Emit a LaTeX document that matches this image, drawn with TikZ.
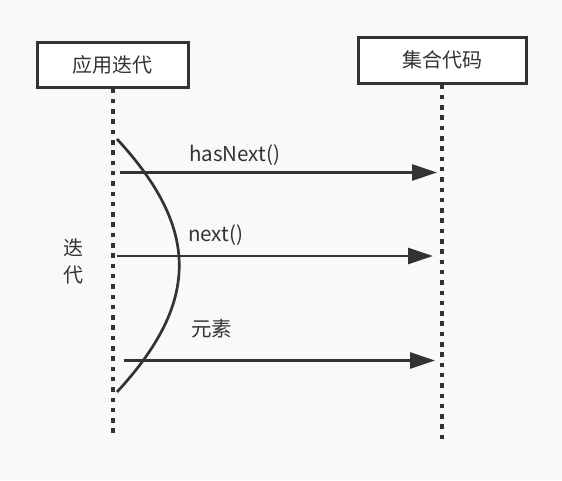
\documentclass[tikz,border=0pt]{standalone}
\usepackage{fontspec}
\setmainfont{Noto Sans CJK SC}
\usetikzlibrary{arrows.meta}
\definecolor{ink}{HTML}{333333}
\definecolor{bg}{HTML}{F9F9F9}
\begin{document}
\begin{tikzpicture}[x=1pt,y=-1pt,
  actor/.style={draw=ink,line width=3pt,fill=white,text=ink,inner sep=0pt,
    font=\fontsize{20}{23}\selectfont},
  lifeline/.style={draw=ink,line width=3.2pt,dash pattern=on 4.5pt off 5.8pt},
  msg/.style={draw=ink,line width=2.8pt,-{Triangle[length=25pt,width=16pt]}},
  lbl/.style={text=ink,inner sep=0pt,anchor=west,font=\fontsize{20.5}{23}\selectfont}]
\fill[bg] (0,0) rectangle (562,480);
\useasboundingbox (0,0) rectangle (562,480);
% actors
\node[actor,minimum width=151pt,minimum height=45pt] (app) at (112.5,64.5) {应用迭代};
\node[actor,minimum width=168pt,minimum height=46pt] (coll) at (442,60) {集合代码};
% lifeline ends
\coordinate (append) at (113,438);
\coordinate (collend) at (442,442);
\draw[lifeline] (app.south -| append) -- (append);
\draw[lifeline] (coll.south -| collend) -- (collend);
% messages
\coordinate (s1) at (120,172.5); \coordinate (t1) at (437,172.5);
\coordinate (s2) at (117,256);   \coordinate (t2) at (433,256);
\coordinate (s3) at (124,360.5); \coordinate (t3) at (435,360.5);
\draw[msg] (s1) -- (t1);
\draw[msg] (s2) -- (t2);
\draw[msg] (s3) -- (t3);
\node[lbl] (l1) at (189,155) {hasNext()};
\node[lbl] (l2) at (188,235) {next()};
\node[lbl] (l3) at (191,329) {元素};
% iteration curve
\coordinate (c0) at (117,139);
\coordinate (c1) at (117,392);
\draw[ink,line width=2.7pt] (c0) .. controls (200,229) and (200,302) .. (c1);
\node[text=ink,inner sep=0pt,align=center,font=\fontsize{20}{27}\selectfont] (iter) at (73,261.5) {迭\\代};
\end{tikzpicture}
\end{document}
